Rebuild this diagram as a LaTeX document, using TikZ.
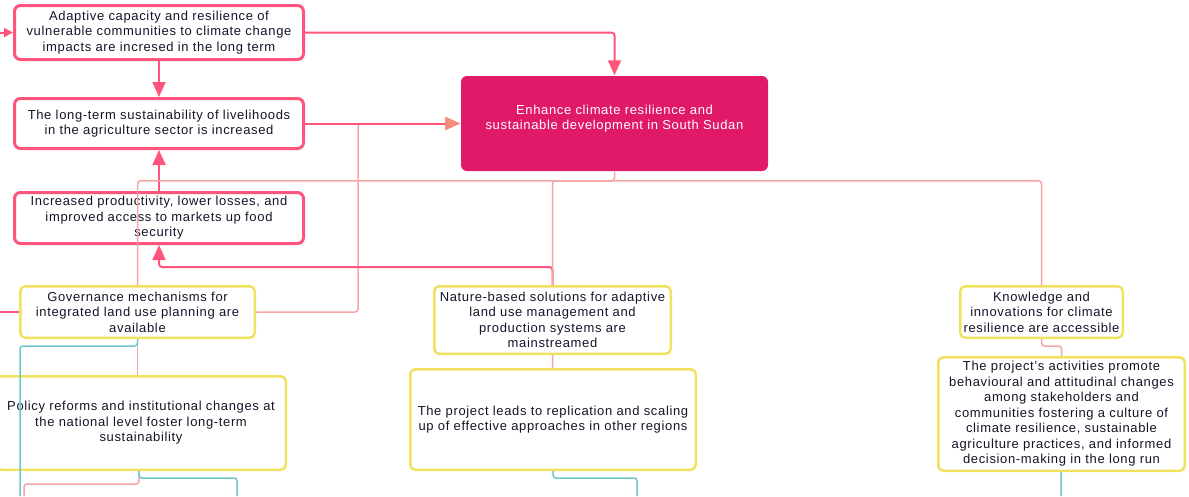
\documentclass[tikz,border=0pt]{standalone}
\usepackage{fontspec}
\setmainfont{Liberation Sans}[LetterSpace=5]
\usepackage{tikz}
\usetikzlibrary{positioning}
\usetikzlibrary{calc}
\usetikzlibrary{arrows.meta}
\definecolor{linkpink}{RGB}{255,85,125}
\definecolor{tippink}{RGB}{245,140,125}
\definecolor{treepink}{RGB}{245,165,165}
\definecolor{boxyellow}{RGB}{240,225,95}
\definecolor{goalred}{RGB}{225,25,105}
\definecolor{tealline}{RGB}{110,200,205}
\definecolor{ink}{RGB}{20,20,40}
\tikzset{every picture/.style={x=1pt,y=-1pt,line width=1.5pt},
every node/.style={font=\fontsize{13pt}{15.5pt}\selectfont,text=ink,align=center,inner sep=1pt},
outcome/.style={draw=linkpink,line width=3pt,rounded corners=6pt},
output/.style={draw=boxyellow,line width=2.5pt,rounded corners=5pt},
goalbox/.style={fill=goalred,rounded corners=6pt,text=white},
link/.style={draw=linkpink,line width=2pt,rounded corners=3pt},
tree/.style={draw=treepink,line width=1.5pt,rounded corners=3pt},
teal/.style={draw=tealline,line width=1.5pt,rounded corners=3pt},
tip/.style={-{Triangle[length=15pt,width=13pt]}}}

\begin{document}
\begin{tikzpicture}
\useasboundingbox (0,0) rectangle (1189,496);
\node (adapt) at (159,32.5) [outcome,minimum width=289pt,minimum height=54pt] {Adaptive capacity and resilience of\\vulnerable communities to climate change\\impacts are incresed in the long term};
\node (lthood) at (159,123.5) [outcome,minimum width=289pt,minimum height=50pt] {The long-term sustainability of livelihoods\\in the agriculture sector is increased};
\node (prod) at (159,218) [outcome,minimum width=289pt,minimum height=51pt] {Increased productivity, lower losses, and\\improved access to markets up food\\security};
\node (goal) at (614.5,123.5) [goalbox,minimum width=307pt,minimum height=95pt,text depth=12pt] {Enhance climate resilience and\\sustainable development in South Sudan};
\node (gov) at (137.5,312) [output,minimum width=234.5pt,minimum height=51.5pt] {Governance mechanisms for\\integrated land use planning are\\available};
\node (pol) at (141,423) [output,minimum width=289.5pt,minimum height=93.5pt] {Policy reforms and institutional changes at\\the national level foster long-term\\sustainability};
\node (nat) at (552.5,320) [output,minimum width=236.5pt,minimum height=67.5pt] {Nature-based solutions for adaptive\\land use management and\\production systems are\\mainstreamed};
\node (proj) at (553,419.5) [output,minimum width=285.5pt,minimum height=100.5pt] {The project leads to replication and scaling\\up of effective approaches in other regions};
\node (know) at (1041.5,312) [output,minimum width=162.5pt,minimum height=51.5pt] {Knowledge and\\innovations for climate\\resilience are accessible};
\node (act) at (1061.5,414) [output,minimum width=246.5pt,minimum height=113.5pt] {The project's activities promote\\behavioural and attitudinal changes\\among stakeholders and\\communities fostering a culture of\\climate resilience, sustainable\\agriculture practices, and informed\\decision-making in the long run};

\coordinate (inA) at (0,32.5);
\coordinate (inGov) at (0,312);
\coordinate (jg) at (358,123.5);
\coordinate (gt) at ($(goal.south)+(0,9)$);
\coordinate (c1) at (20,496);
\coordinate (c2) at (24,496);
\coordinate (c3) at (237,496);
\coordinate (c4) at (637,496);
\coordinate (c5) at (1061,496);

\draw[link,-{Triangle[length=9pt,width=9pt]}] (inA) -- (adapt);
\draw[link] (inGov) -- (gov);
\draw[link,tip] (adapt) -| (goal);
\draw[link,tip] (adapt) -- (lthood);
\draw[link,tip] (prod) -- (lthood);
\draw[tree,-{Triangle[length=15pt,width=13pt,color=tippink]}] (gov) -| (jg) -- (goal);
\draw[link,-{Triangle[length=15pt,width=13pt,color=tippink]}] (lthood) -- (goal);
\draw[link,tip] (nat.north) -- ++(0,-18) -| (prod);
\draw[tree] (goal) -- (gt) -| (gov);
\draw[tree] (gt) -| (nat);
\draw[tree] (gt) -| (know);
\draw[tree] (gov) -- (gov |- pol.north);
\draw[teal] (gov.south) -- ++(0,7) -| (c1);
\draw[tree] ($(pol.south)+(-2,0)$) -- ++(0,13) -| (c2);
\draw[teal] ($(pol.south)+(-2,0)$) -- ++(0,7) -| (c3);
\draw[tree] (nat) -- (proj);
\draw[teal] (proj.south) -- ++(0,7) -| (c4);
\draw[tree] (know.south) -- ++(0,7) -| (act.north);
\draw[teal] (act) -- (c5);
\end{tikzpicture}
\end{document}
